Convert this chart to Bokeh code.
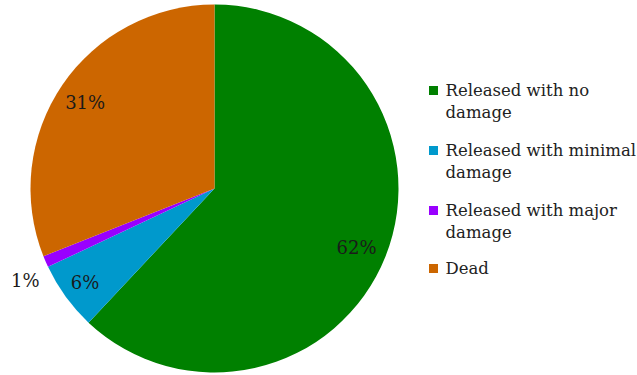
import numpy as np
from bokeh.plotting import figure
from bokeh.models import Range1d, ColumnDataSource
from bokeh.core.properties import value
from bokeh.embed import file_html
from bokeh.resources import INLINE

# ---- data ----
categories = ["Released with no damage", "Released with minimal damage",
              "Released with major damage", "Dead"]
legend_labels = ["Released with no\ndamage", "Released with minimal\ndamage",
                 "Released with major\ndamage", "Dead"]
percentages = [62, 6, 1, 31]
colors = ["#008000", "#0099CC", "#9900FF", "#CC6600"]

# ---- layout / style ----
W, H = 637, 375
CX, CY, R = 214, H - 188, 184
label_r = [0.83, 0.87, 1.12, 0.85]
label_dy = [-3, 0, -10, -2]
FONT = "DejaVu Serif"
FS = 16.5

vals = np.array(percentages, dtype=float)
frac = vals / vals.sum()
cum = np.concatenate([[0], np.cumsum(frac)])
start = np.pi / 2 - cum[:-1] * 2 * np.pi
end = np.pi / 2 - cum[1:] * 2 * np.pi
mid = (start + end) / 2

src = ColumnDataSource(dict(
    cat=categories, start=start, end=end, color=colors,
    lx=CX + np.array(label_r) * R * np.cos(mid),
    ly=CY + np.array(label_r) * R * np.sin(mid) + np.array(label_dy),
    txt=[f"{v:.0f}%" for v in vals],
))

p = figure(width=W, height=H, output_backend="svg", toolbar_location=None,
           x_range=Range1d(0, W), y_range=Range1d(0, H), min_border=0)
p.axis.visible = False
p.grid.visible = False
p.outline_line_color = None
p.background_fill_color = "white"
p.border_fill_color = "white"

p.wedge(x=CX, y=CY, radius=R, start_angle="start", end_angle="end",
        direction="clock", fill_color="color", line_color=None, source=src)

p.text(x="lx", y="ly", text="txt", source=src, text_font=value(FONT),
       text_font_size="18px", text_align="center", text_baseline="middle",
       text_color="#1a1a1a")

# legend (manual)
leg_top = [80, 140, 200, 258]
leg = ColumnDataSource(dict(
    sx=[433] * 4, sy=[H - t - 10 for t in leg_top],
    tx=[445] * 4, ty=[H - t for t in leg_top],
    label=legend_labels, color=colors,
))
p.scatter(x="sx", y="sy", marker="square", size=9, fill_color="color",
          line_color=None, source=leg)
p.text(x="tx", y="ty", text="label", source=leg, text_font=value(FONT),
       text_font_size=f"{FS}px", text_align="left", text_baseline="top",
       text_line_height=1.2, text_color="#222222")

open("out.html", "w").write(file_html(p, INLINE))
